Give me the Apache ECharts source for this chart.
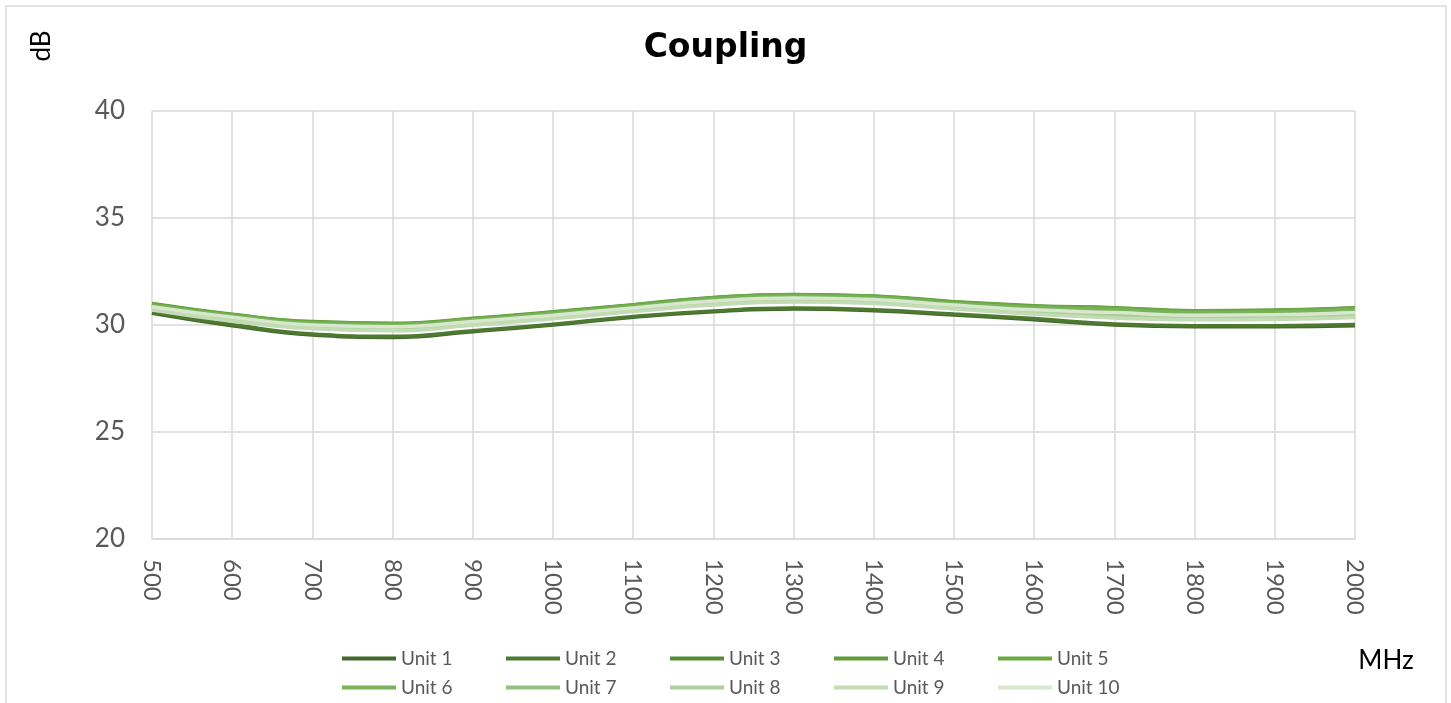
<!DOCTYPE html>
<html>
<head>
<meta charset="utf-8">
<script src="https://cdn.jsdelivr.net/npm/echarts@6/dist/echarts.min.js"></script>
<style>
  html, body { margin: 0; padding: 0; background: #fff; }
  #chart { width: 1451px; height: 703px; }
</style>
</head>
<body>
<div id="chart"></div>
<script>
// frequency points (MHz)
const freq = [500, 600, 700, 800, 900, 1000, 1100, 1200, 1300, 1400, 1500, 1600, 1700, 1800, 1900, 2000];

// coupling per unit (dB)
const unit1  = [30.55, 29.97, 29.53, 29.42, 29.69, 30.00, 30.36, 30.62, 30.75, 30.67, 30.47, 30.25, 30.00, 29.92, 29.92, 29.97];
const unit2  = [30.60, 30.02, 29.58, 29.47, 29.73, 30.04, 30.40, 30.66, 30.79, 30.71, 30.51, 30.30, 30.05, 29.97, 29.97, 30.02];
const unit3  = [30.95, 30.46, 30.12, 30.04, 30.27, 30.58, 30.91, 31.25, 31.39, 31.32, 31.05, 30.86, 30.77, 30.63, 30.66, 30.77];
const unit4  = [31.00, 30.50, 30.16, 30.08, 30.31, 30.62, 30.95, 31.29, 31.43, 31.36, 31.09, 30.90, 30.81, 30.67, 30.70, 30.81];
const unit5  = [30.98, 30.48, 30.14, 30.06, 30.29, 30.60, 30.93, 31.27, 31.41, 31.34, 31.07, 30.88, 30.79, 30.65, 30.68, 30.79];
const unit6  = [30.92, 30.43, 30.09, 30.01, 30.24, 30.55, 30.88, 31.21, 31.35, 31.28, 31.01, 30.82, 30.72, 30.58, 30.61, 30.72];
const unit7  = [30.80, 30.30, 29.94, 29.86, 30.10, 30.40, 30.74, 31.05, 31.19, 31.12, 30.87, 30.64, 30.50, 30.38, 30.40, 30.50];
const unit8  = [30.75, 30.24, 29.87, 29.79, 30.04, 30.34, 30.68, 30.98, 31.12, 31.05, 30.80, 30.56, 30.40, 30.30, 30.32, 30.42];
const unit9  = [30.70, 30.18, 29.82, 29.73, 29.99, 30.29, 30.63, 30.93, 31.07, 31.00, 30.75, 30.50, 30.33, 30.24, 30.26, 30.35];
const unit10 = [30.85, 30.36, 30.00, 29.92, 30.16, 30.46, 30.80, 31.12, 31.26, 31.19, 30.93, 30.71, 30.58, 30.46, 30.48, 30.58];

const unitNames = ['Unit 1', 'Unit 2', 'Unit 3', 'Unit 4', 'Unit 5', 'Unit 6', 'Unit 7', 'Unit 8', 'Unit 9', 'Unit 10'];
const unitData = [unit1, unit2, unit3, unit4, unit5, unit6, unit7, unit8, unit9, unit10];
const unitColors = ['#43682b', '#4d7a30', '#578c35', '#619c3a', '#6aaa40', '#79b25a', '#97c07f', '#afcf9c', '#c4dcb6', '#d7e8ce'];

const series = unitNames.map((name, i) => ({
  name: name,
  type: 'line',
  smooth: true,
  symbol: 'none',
  lineStyle: { width: 3.5, color: unitColors[i] },
  itemStyle: { color: unitColors[i] },
  data: freq.map((f, k) => [f, unitData[i][k]])
}));

// one legend per item so the columns line up like the original
const legends = unitNames.map((name, i) => ({
  left: 342 + (i % 5) * 164,
  top: i < 5 ? 649 : 678,
  padding: 0,
  icon: 'rect',
  itemWidth: 54,
  itemHeight: 4,
  data: [name],
  textStyle: { color: '#595959', fontSize: 19, fontFamily: 'Lato' }
}));

const chart = echarts.init(document.getElementById('chart'));
chart.setOption({
  animation: false,
  title: {
    text: 'Coupling',
    left: 'center',
    top: 27,
    textStyle: { color: '#000', fontSize: 33, fontWeight: 'bold', fontFamily: 'DejaVu Sans' }
  },
  legend: legends,
  grid: { left: 152, right: 96, top: 111, bottom: 164 },
  xAxis: {
    type: 'value',
    min: 500,
    max: 2000,
    interval: 100,
    axisLine: { show: true, lineStyle: { color: '#d9d9d9', width: 1.5 } },
    axisTick: { show: false },
    axisLabel: {
      rotate: -90, color: '#595959', fontSize: 24, fontFamily: 'Lato', margin: 20,
      formatter: (v) => String(v)
    },
    splitLine: { show: true, lineStyle: { color: '#d9d9d9', width: 1.5 } }
  },
  yAxis: {
    type: 'value',
    min: 20,
    max: 40,
    interval: 5,
    axisLine: { show: false },
    axisTick: { show: false },
    axisLabel: { color: '#595959', fontSize: 26, fontFamily: 'Lato', margin: 27 },
    splitLine: { show: true, lineStyle: { color: '#d9d9d9', width: 1.5 } }
  },
  graphic: [
    {
      type: 'rect',
      shape: { x: 6, y: 6, width: 1440, height: 720 },
      style: { fill: 'none', stroke: '#d9d9d9', lineWidth: 1.5 },
      silent: true
    },
    {
      type: 'text',
      x: 42, y: 46,
      rotation: Math.PI / 2,
      style: { text: 'dB', fill: '#000', fontSize: 26, fontFamily: 'Lato', textAlign: 'center', textVerticalAlign: 'middle' }
    },
    {
      type: 'text',
      x: 1386, y: 661,
      style: { text: 'MHz', fill: '#000', fontSize: 26, fontFamily: 'Lato', textAlign: 'center', textVerticalAlign: 'middle' }
    }
  ],
  series: series
});
</script>
</body>
</html>
